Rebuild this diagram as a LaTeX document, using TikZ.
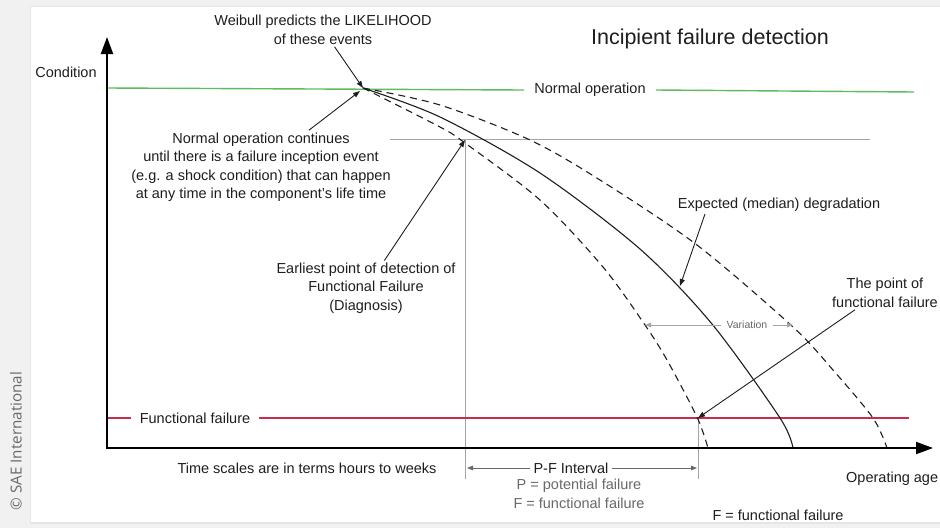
\documentclass[tikz,border=0pt]{standalone}
\usepackage{fontspec}
\setmainfont{Liberation Sans}
\newfontfamily\creditfont{Open Sans}
\usetikzlibrary{arrows.meta,calc}
\definecolor{ink}{RGB}{30,30,30}
\definecolor{okgreen}{RGB}{96,186,96}
\definecolor{failred}{RGB}{200,45,75}
\definecolor{guide}{RGB}{165,165,165}
\definecolor{softtext}{RGB}{105,105,105}
\definecolor{strip}{RGB}{241,241,241}

\begin{document}
\begin{tikzpicture}[x=1pt,y=-1pt,
  lbl/.style={font=\fontsize{14.5}{18.5}\selectfont, text=ink, align=center, inner sep=2pt},
  softlbl/.style={lbl, text=softtext},
  smalllbl/.style={font=\fontsize{10.5}{12}\selectfont, text=softtext, inner sep=2pt},
  axis/.style={draw=black, line width=2pt, line join=miter,
    {Triangle[length=17pt,width=12pt]}-{Triangle[length=17pt,width=12pt]}},
  callout/.style={draw=ink, line width=0.9pt, -{Triangle[length=7pt,width=5pt]}},
  span/.style={draw=softtext, line width=0.9pt, -{Triangle[length=6pt,width=4.5pt]}},
  guideline/.style={draw=guide, line width=0.9pt},
  level/.style={line width=1.4pt},
  curve/.style={draw=ink, line width=1.1pt},
  band/.style={curve, dash pattern=on 7pt off 5pt}
]
\useasboundingbox (0,0) rectangle (940,528);

% page surround and white panel
\fill[strip] (0,0) rectangle (940,528);
\fill[black!10] (29.5,6) rectangle (940,523.5);
\fill[white] (31,7) rectangle (940,522);

% credit line
\node[rotate=90, font=\creditfont\fontsize{15.2}{17}\selectfont, text=softtext, inner sep=0pt]
  (credit) at (16,441) {© SAE International};

% key points
\coordinate (origin) at (107,448);
\coordinate (ytop) at (107,37);
\coordinate (xend) at (933,448);
\coordinate (w) at (363,88);
\coordinate (wnear) at (360,91);
\coordinate (p) at (465,140);
\coordinate (f) at (698,418);
\coordinate (med) at (680,286);

% guide lines for the P and F points
\coordinate (hl) at (390,139);
\coordinate (hr) at (870,139);
\coordinate (pbot) at (465,479);
\coordinate (fbot) at (698,479);
\draw[guideline] (hl) -- (hr);
\draw[guideline] (p) -- (pbot);
\draw[guideline] (f) -- (fbot);

% normal operation level
\node[lbl, inner xsep=10pt] (normal) at (590,90) {Normal operation};
\coordinate (gstart) at (107,88);
\coordinate (gend) at (914,92);
\draw[level, okgreen] (gstart) -- (normal.west);
\draw[level, okgreen] (normal.east) -- (gend);

% functional failure level
\node[lbl, inner xsep=9pt] (ffail) at (195,418) {Functional failure};
\coordinate (rstart) at (107,418);
\coordinate (rend) at (909,418);
\draw[level, failred] (rstart) -- (ffail.west);
\draw[level, failred] (ffail.east) -- (rend);

% degradation curves
\draw[curve] plot[smooth] coordinates {(363,88) (440,117) (540,173) (640,249) (712,324) (780,418) (793,448)};
\draw[band] plot[smooth] coordinates {(363,88) (440,127) (465,143) (540,200) (603,267) (645,325) (667,360) (697,417) (708,448)};
\draw[band] plot[smooth] coordinates {(363,88) (440,105) (530,140) (600,180) (697,245) (793,327) (833,370) (873,418) (887,448)};

% axes
\draw[axis] (ytop) -- (origin) -- (xend);
\node[lbl] (cond) at (66,72) {Condition};
\node[lbl, anchor=west, inner sep=1pt] (age) at (845,479) {Operating age};

% title
\node[lbl, font=\fontsize{21.5}{24}\selectfont] (title) at (710,39) {Incipient failure detection};

% callouts
\node[lbl] (weib) at (323,30) {Weibull predicts the LIKELIHOOD\\of these events};
\draw[callout] (weib) -- (w);

\node[lbl] (cont) at (261,167) {Normal operation continues\\until there is a failure inception event\\(e.g. a shock condition) that can happen\\at any time in the component's life time};
\draw[callout] (cont) -- (wnear);

\node[lbl] (early) at (366,288) {Earliest point of detection of\\Functional Failure\\(Diagnosis)};
\draw[callout] (early) -- (p);

\node[lbl] (expd) at (779,205) {Expected (median) degradation};
\draw[callout] ([xshift=-74pt]expd.south) -- (med);

\node[lbl] (pff) at (885,293) {The point of\\functional failure};
\draw[callout] ([xshift=-30pt]pff.south) -- (f);

% variation band
\node[smalllbl, inner xsep=5pt] (var) at (747,325) {Variation};
\coordinate (vl) at (645,325);
\coordinate (vr) at (793,325);
\draw[span, draw=guide] (var.west) -- (vl);
\draw[span, draw=guide] (var.east) -- (vr);

% P-F interval
\node[lbl, inner xsep=3pt] (pf) at (571,468) {P-F Interval};
\coordinate (pfl) at (467,468);
\coordinate (pfr) at (697,468);
\draw[span] (pf.west) -- (pfl);
\draw[span] (pf.east) -- (pfr);
\node[softlbl] (pfdef) at (579,494) {P = potential failure\\F = functional failure};

\node[lbl] (scale) at (307,468) {Time scales are in terms hours to weeks};
\node[lbl] (fdef) at (778,515) {F = functional failure};
\end{tikzpicture}
\end{document}
